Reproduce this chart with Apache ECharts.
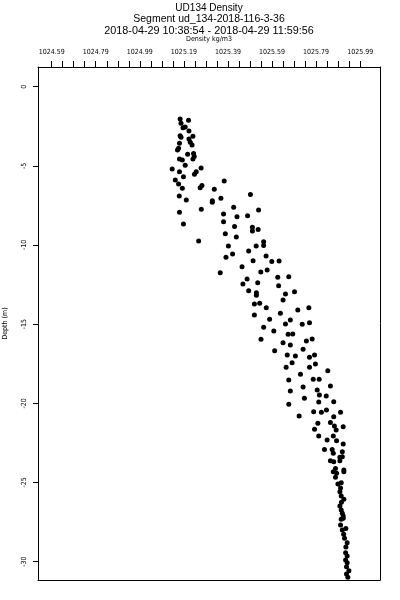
<!DOCTYPE html>
<html>
<head>
<meta charset="utf-8">
<script src="https://cdn.jsdelivr.net/npm/echarts@6/dist/echarts.min.js"></script>
<style>html,body{margin:0;padding:0;background:#fff;}#chart{width:400px;height:600px;}</style>
</head>
<body>
<div id="chart"></div>
<script>
const titleLines = ["UD134 Density", "Segment ud_134-2018-116-3-36", "2018-04-29 10:38:54 - 2018-04-29 11:59:56"];
const xAxisName = "Density kg/m3";
const yAxisName = "Depth (m)";

const densityTickLabels = [1024.59, 1024.79, 1024.99, 1025.19, 1025.39, 1025.59, 1025.79, 1025.99];
const densityMinorTicks = [1024.59, 1024.64, 1024.69, 1024.74, 1024.79, 1024.84, 1024.89, 1024.94, 1024.99,
  1025.04, 1025.09, 1025.14, 1025.19, 1025.24, 1025.29, 1025.34, 1025.39, 1025.44, 1025.49, 1025.54,
  1025.59, 1025.64, 1025.69, 1025.74, 1025.79, 1025.84, 1025.89, 1025.94, 1025.99];
const depthTicks = [0, -5, -10, -15, -20, -25, -30];

const density = [
  1025.173,1025.211,1025.177,1025.186,1025.196,1025.213,1025.173,1025.177,1025.231,1025.213,
  1025.219,1025.227,1025.170,1025.166,1025.161,1025.207,1025.234,1025.237,1025.231,1025.170,
  1025.183,1025.196,1025.137,1025.170,1025.268,1025.246,1025.238,1025.188,1025.151,1025.166,
  1025.183,1025.169,1025.201,1025.170,1025.188,1025.257,1025.272,1025.264,
  1025.373,1025.328,1025.319,1025.319,1025.358,1025.492,1025.269,1025.416,1025.529,1025.370,
  1025.431,1025.479,1025.370,1025.420,1025.501,1025.501,1025.527,1025.378,1025.428,1025.552,
  1025.552,1025.518,1025.392,1025.484,1025.411,1025.381,1025.563,1025.504,1025.589,1025.622,
  1025.454,1025.568,1025.539,1025.355,1025.616,1025.666,1025.477,
  1025.458,1025.525,1025.620,1025.484,1025.519,1025.519,1025.651,1025.692,1025.640,1025.510,
  1025.534,1025.564,1025.707,1025.757,1025.510,1025.579,1025.628,1025.673,1025.651,1025.727,
  1025.760,1025.552,1025.598,1025.663,1025.684,1025.540,1025.640,1025.673,1025.746,1025.772,
  1025.602,1025.659,1025.696,1025.731,1025.783,1025.760,1025.681,1025.654,1025.760,1025.787,
  1025.843,1025.719,1025.666,1025.777,1025.804,1025.855,1025.731,1025.673,1025.795,1025.805,
  1025.836,1025.737,1025.870,1025.666,1025.802,1025.779,1025.814,1025.837,1025.901,1025.713,
  1025.870,
  1025.798,1025.783,1025.855,1025.873,1025.881,1025.913,1025.802,1025.868,1025.840,1025.883,
  1025.913,1025.828,1025.863,1025.868,1025.909,1025.855,1025.870,1025.898,1025.898,1025.909,
  1025.878,1025.868,1025.883,1025.916,1025.916,1025.878,1025.904,1025.889,1025.898,1025.904,
  1025.916,1025.898,1025.904,1025.913,1025.913,1025.904,1025.901,1025.909,1025.925,1025.919,
  1025.931,1025.924,1025.931,1025.924,1025.931,1025.928,1025.939,1025.928,1025.934,
  1025.901,1025.905,1025.909,1025.915,1025.925
];
const depth = [
  -2.04,-2.12,-2.31,-2.59,-2.55,-2.80,-3.10,-3.20,-3.13,-3.30,
  -3.51,-3.68,-3.58,-3.89,-4.00,-4.27,-4.23,-4.42,-4.57,-4.57,
  -4.63,-4.97,-5.20,-5.37,-5.14,-5.37,-5.53,-5.69,-5.89,-6.15,
  -6.42,-6.90,-7.16,-7.93,-8.67,-9.75,-6.25,-6.38,
  -5.96,-6.48,-7.20,-7.30,-7.05,-6.82,-7.74,-7.62,-7.79,-8.04,
  -8.21,-8.15,-8.53,-8.84,-8.88,-9.12,-9.03,-9.29,-9.49,-9.79,
  -10.04,-10.06,-10.06,-10.38,-10.57,-10.78,-10.69,-10.99,-11.05,-11.01,
  -11.37,-11.58,-11.71,-11.75,-12.04,-12.00,-12.15,
  -12.46,-12.38,-12.57,-12.89,-13.01,-13.18,-13.10,-12.95,-13.47,-13.73,
  -13.68,-13.96,-14.11,-13.96,-14.42,-14.69,-14.31,-14.74,-14.99,-15.01,
  -14.91,-15.20,-15.43,-15.64,-15.62,-15.96,-16.17,-16.32,-16.06,-15.94,
  -16.68,-16.95,-17.01,-16.59,-16.95,-17.09,-17.44,-17.73,-17.73,-17.52,
  -17.94,-18.17,-18.53,-18.48,-18.48,-18.91,-18.97,-19.22,-19.16,-19.48,
  -19.54,-19.68,-19.90,-20.06,-19.92,-20.53,-20.57,-20.42,-20.57,-20.80,
  -20.85,
  -21.26,-21.64,-21.22,-21.43,-21.69,-21.48,-22.07,-22.07,-22.32,-22.36,
  -22.57,-22.91,-22.91,-23.16,-23.06,-23.63,-23.69,-23.63,-23.41,-23.37,
  -24.11,-24.32,-24.42,-24.32,-24.21,-24.67,-25.02,-25.10,-25.58,-25.86,
  -26.06,-26.49,-26.74,-27.12,-27.26,-27.33,-27.69,-28.00,-27.90,-28.53,
  -28.81,-29.44,-29.65,-29.90,-30.07,-30.32,-30.57,-30.78,-30.99,
  -25.35,-26.25,-26.95,-28.27,-29.08
];

const points = density.map((d, i) => [d, depth[i]]);

const X_MIN = 1024.528, X_MAX = 1026.08, Y_MIN = -31.16, Y_MAX = 1.24;
const narrow = "'Liberation Sans Narrow', 'DejaVu Sans Condensed', 'Liberation Sans', sans-serif";
const titleFont = "'Liberation Sans', 'DejaVu Sans', sans-serif";

const chart = echarts.init(document.getElementById('chart'), null, {renderer: 'canvas'});
chart.setOption({
  animation: false,
  backgroundColor: '#fff',
  graphic: [
    {type: 'text', x: 209, y: 8, style: {text: titleLines[0], align: 'center', verticalAlign: 'middle', fontSize: 10, fontFamily: titleFont, fill: '#000'}},
    {type: 'text', x: 209, y: 19, style: {text: titleLines[1], align: 'center', verticalAlign: 'middle', fontSize: 10.5, fontFamily: titleFont, fill: '#000'}},
    {type: 'text', x: 209, y: 31, style: {text: titleLines[2], align: 'center', verticalAlign: 'middle', fontSize: 10.8, fontFamily: titleFont, fill: '#000'}},
    {type: 'text', x: 209, y: 39, style: {text: xAxisName, align: 'center', verticalAlign: 'middle', fontSize: 7, fontFamily: narrow, fill: '#000'}}
  ],
  grid: {left: 38, right: 20, top: 67, bottom: 20, show: false, containLabel: false, outerBoundsMode: 'none'},
  xAxis: [
    {type: 'value', position: 'top', min: X_MIN, max: X_MAX,
     axisLine: {show: true, onZero: false, lineStyle: {color: '#000', width: 1}},
     axisTick: {show: true, inside: false, length: 6, customValues: densityMinorTicks, lineStyle: {color: '#000', width: 1}},
     axisLabel: {show: true, customValues: densityTickLabels, margin: 11, fontSize: 7, fontFamily: narrow, color: '#000',
                 formatter: v => v.toFixed(2), showMinLabel: true, showMaxLabel: true},
     splitLine: {show: false}},
    {type: 'value', position: 'bottom', min: X_MIN, max: X_MAX,
     axisLine: {show: true, onZero: false, lineStyle: {color: '#000', width: 1}},
     axisTick: {show: false}, axisLabel: {show: false}, splitLine: {show: false}}
  ],
  yAxis: [
    {type: 'value', position: 'left', min: Y_MIN, max: Y_MAX,
     name: yAxisName, nameLocation: 'middle', nameGap: 29, nameRotate: 90,
     nameTextStyle: {fontSize: 7, fontFamily: narrow, color: '#000'},
     axisLine: {show: true, onZero: false, lineStyle: {color: '#000', width: 1}},
     axisTick: {show: true, inside: false, length: 5, customValues: depthTicks, lineStyle: {color: '#000', width: 1}},
     axisLabel: {show: true, customValues: depthTicks, rotate: 90, margin: 10, fontSize: 7, fontFamily: narrow, color: '#000'},
     splitLine: {show: false}},
    {type: 'value', position: 'right', min: Y_MIN, max: Y_MAX,
     axisLine: {show: true, onZero: false, lineStyle: {color: '#000', width: 1}},
     axisTick: {show: false}, axisLabel: {show: false}, splitLine: {show: false}}
  ],
  series: [{
    type: 'scatter', xAxisIndex: 0, yAxisIndex: 0,
    data: points, symbol: 'circle', symbolSize: 5,
    itemStyle: {color: '#000', opacity: 1}
  }]
});
</script>
</body>
</html>
